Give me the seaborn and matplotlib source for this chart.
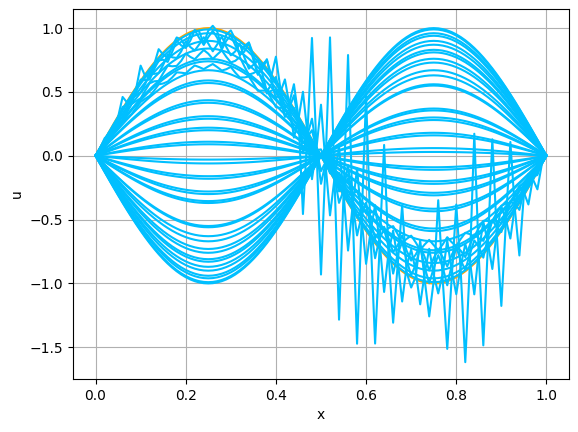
import numpy as np
import pandas as pd
import seaborn as sns
import matplotlib
matplotlib.use("Agg")
import matplotlib.pyplot as plt

# grid points along x
x_grid = np.linspace(0, 1, 101)

# amplitude (value at x=0.25) of each smooth snapshot
smooth_amps = [0.99, 0.96, 0.90, 0.84, 0.76, 0.74, 0.67, 0.59, 0.57, 0.435,
               0.415, 0.31, 0.29, 0.22, 0.20, 0.11, 0.09, -0.03, -0.06, -0.16,
               -0.18, -0.28, -0.30, -0.355, -0.37, -0.55, -0.56, -0.63, -0.67,
               -0.73, -0.76, -0.81, -0.83, -0.87, -0.90, -0.94, -0.96, -0.99, -1.0]

# amplitudes of the late, unstable snapshots
noisy_amps = [0.98, 0.93, 0.88, 0.80, 0.70]

# deviations of the unstable snapshots at every second grid point (x = 0, 0.02, ..., 1)
dev_1 = [0, 0, -0.03, 0.1, -0.05, 0.13, -0.05, 0.08, -0.06, 0.04,
         -0.08, 0.02, -0.1, 0.04, -0.12, 0.05, -0.1, 0.06, -0.12, 0.08,
         0.2, -0.1, 0.2, -0.7, 0.8, -0.93, 1.05, -1.04, 1.15, -1.0,
         1.05, -0.8, 0.84, -0.48, 0.5, -0.1, 0.3, -0.28, 0.63, -0.55,
         0.55, -0.73, 1.0, -0.73, 0.8, -0.6, 0.58, -0.42, 0.1, -0.14, 0]
dev_2 = [0, 0.02, -0.02, 0.04, -0.03, 0.05, -0.04, 0.03, -0.05, 0.06,
         -0.04, 0.07, -0.06, 0.05, -0.08, 0.06, -0.05, 0.1, -0.08, 0.12,
         -0.1, 0.15, -0.2, 0.27, -0.3, 0.4, -0.35, 0.3, -0.4, 0.35,
         -0.3, 0.25, -0.35, 0.2, -0.3, 0.15, -0.25, 0.2, -0.15, 0.25,
         -0.2, 0.15, -0.3, 0.2, -0.25, 0.15, -0.2, 0.1, -0.15, 0.05, 0]
dev_3 = [0, -0.01, 0.02, -0.02, 0.03, -0.02, 0.04, -0.03, 0.05, -0.03,
         0.06, -0.04, 0.05, -0.06, 0.07, -0.05, 0.08, -0.06, 0.07, -0.1,
         0.1, -0.12, 0.15, -0.2, 0.18, -0.22, 0.2, -0.15, 0.25, -0.2,
         0.15, -0.2, 0.1, -0.18, 0.12, -0.1, 0.15, -0.12, 0.1, -0.15,
         0.12, -0.1, 0.08, -0.12, 0.1, -0.08, 0.06, -0.1, 0.05, -0.04, 0]
dev_4 = [0, 0, 0.01, -0.01, 0.02, -0.02, 0.02, -0.03, 0.03, -0.02,
         0.04, -0.03, 0.03, -0.04, 0.04, -0.03, 0.05, -0.04, 0.05, -0.06,
         0.05, -0.07, 0.08, -0.1, 0.1, -0.12, 0.1, -0.08, 0.12, -0.1,
         0.08, -0.1, 0.06, -0.08, 0.1, -0.06, 0.08, -0.1, 0.06, -0.08,
         0.05, -0.07, 0.06, -0.05, 0.04, -0.06, 0.03, -0.04, 0.03, -0.02, 0]
dev_5 = [0, 0, 0, 0.01, -0.01, 0.01, -0.01, 0.02, -0.01, 0.02,
         -0.02, 0.02, -0.02, 0.02, -0.02, 0.03, -0.02, 0.03, -0.03, 0.03,
         -0.03, 0.04, -0.04, 0.05, -0.04, 0.05, -0.05, 0.04, -0.05, 0.06,
         -0.04, 0.05, -0.06, 0.04, -0.05, 0.04, -0.05, 0.04, -0.04, 0.05,
         -0.04, 0.03, -0.04, 0.03, -0.03, 0.02, -0.03, 0.02, -0.02, 0.01, 0]
noisy_devs = [dev_1, dev_2, dev_3, dev_4, dev_5]


def build_frame():
    """Long table with one row per grid point and snapshot."""
    shape = np.sin(2 * np.pi * x_grid)
    rows = []
    curve = 0
    for a in smooth_amps:
        rows.append(pd.DataFrame({"x": x_grid, "u": a * shape, "curve": curve}))
        curve += 1
    for a, dev in zip(noisy_amps, noisy_devs):
        u = a * shape
        u[::2] += np.array(dev)
        rows.append(pd.DataFrame({"x": x_grid, "u": u, "curve": curve}))
        curve += 1
    return pd.concat(rows, ignore_index=True), shape


df, shape = build_frame()

fig, ax = plt.subplots(figsize=(5.78, 4.32), dpi=100)
fig.subplots_adjust(left=0.1263, right=0.9844, bottom=0.1227, top=0.9792)

sns.lineplot(x=x_grid, y=shape, color="orange", ax=ax)
sns.lineplot(data=df, x="x", y="u", units="curve", estimator=None,
             color="deepskyblue", linewidth=1.5, sort=False, ax=ax)
ax.set_xlabel("x")
ax.set_ylabel("u")
ax.grid(True)

fig.savefig("out.png", dpi=100)
